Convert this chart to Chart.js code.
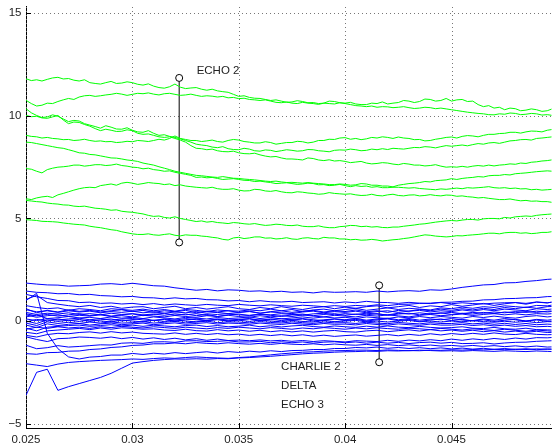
<!DOCTYPE html>
<html lang="en">
<head>
<meta charset="UTF-8" />
<title>Traces</title>
<style>
  body { margin: 0; background: #fff; }
  #wrap { width: 556px; height: 447px; }
</style>
</head>
<body>
<div id="wrap"><canvas id="traceChart"></canvas></div>
<script src="https://cdn.jsdelivr.net/npm/chart.js"></script>
<script>
  // sample times (s) - fine grid for the green traces
  const XF = [0.025,0.02525,0.0255,0.02575,0.026,0.02625,0.0265,0.02675,0.027,0.02725,
              0.0275,0.02775,0.028,0.02825,0.0285,0.02875,0.029,0.02925,0.0295,0.02975,
              0.03,0.03025,0.0305,0.03075,0.031,0.03125,0.0315,0.03175,0.032,0.03225,
              0.0325,0.03275,0.033,0.03325,0.0335,0.03375,0.034,0.03425,0.0345,0.03475,
              0.035,0.03525,0.0355,0.03575,0.036,0.03625,0.0365,0.03675,0.037,0.03725,
              0.0375,0.03775,0.038,0.03825,0.0385,0.03875,0.039,0.03925,0.0395,0.03975,
              0.04,0.04025,0.0405,0.04075,0.041,0.04125,0.0415,0.04175,0.042,0.04225,
              0.0425,0.04275,0.043,0.04325,0.0435,0.04375,0.044,0.04425,0.0445,0.04475,
              0.045,0.04525,0.0455,0.04575,0.046,0.04625,0.0465,0.04675,0.047,0.04725,
              0.0475,0.04775,0.048,0.04825,0.0485,0.04875,0.049,0.04925,0.0495,0.04975,0.05];
  // coarser grid for the blue traces
  const X = [0.025,0.0255,0.026,0.0265,0.027,0.0275,0.028,0.0285,0.029,0.0295,
             0.03,0.0305,0.031,0.0315,0.032,0.0325,0.033,0.0335,0.034,0.0345,
             0.035,0.0355,0.036,0.0365,0.037,0.0375,0.038,0.0385,0.039,0.0395,
             0.04,0.0405,0.041,0.0415,0.042,0.0425,0.043,0.0435,0.044,0.0445,
             0.045,0.0455,0.046,0.0465,0.047,0.0475,0.048,0.0485,0.049,0.0495,0.05];

  const xTicks = [0.025, 0.03, 0.035, 0.04, 0.045];
  const xTickLabels = ['0.025', '0.03', '0.035', '0.04', '0.045'];
  const yTicks = [-5, 0, 5, 10, 15];
  const yTickLabels = ['\u22125', '0', '5', '10', '15'];

  // green traces
  const green1 = [11.81,11.72,11.76,11.7,11.78,11.85,11.88,11.8,11.82,11.74,
                  11.7,11.76,11.62,11.58,11.55,11.62,11.68,11.58,11.6,11.66,
                  11.62,11.54,11.5,11.56,11.45,11.38,11.35,11.42,11.55,11.4,
                  11.33,11.36,11.38,11.3,11.25,11.3,11.22,11.18,11.15,11.05,
                  10.95,10.98,10.9,10.86,10.85,10.8,10.75,10.78,10.72,10.66,
                  10.68,10.74,10.7,10.64,10.65,10.6,10.62,10.72,10.7,10.64,
                  10.62,10.66,10.58,10.55,10.55,10.62,10.6,10.68,10.58,10.62,
                  10.65,10.75,10.72,10.65,10.7,10.82,10.8,10.72,10.75,10.85,
                  10.72,10.78,10.8,10.7,10.72,10.55,10.45,10.5,10.38,10.42,
                  10.3,10.38,10.35,10.25,10.28,10.34,10.3,10.22,10.25,10.35,10.08];
  const green2 = [10.76,10.6,10.48,10.52,10.62,10.6,10.7,10.78,10.85,10.8,
                  10.92,10.98,11.0,10.95,10.98,11.02,11.05,11.1,11.06,11.0,
                  11.05,11.1,11.08,11.12,11.06,11.02,11.08,11.1,11.05,11.0,
                  11.02,11.06,11.0,10.95,10.98,10.96,10.92,10.95,10.88,10.9,
                  10.84,10.86,10.8,10.78,10.75,10.78,10.72,10.66,10.64,10.68,
                  10.62,10.6,10.66,10.62,10.6,10.56,10.62,10.6,10.58,10.64,
                  10.6,10.55,10.5,10.48,10.45,10.48,10.42,10.45,10.44,10.4,
                  10.42,10.45,10.4,10.36,10.38,10.42,10.4,10.35,10.38,10.34,
                  10.3,10.26,10.22,10.18,10.15,10.12,10.1,10.06,10.05,10.1,
                  10.08,10.14,10.12,10.06,10.08,10.12,10.1,10.04,10.06,10.02,10.0];
  const green3 = [10.35,10.15,10.02,9.92,9.95,10.05,9.98,9.85,9.72,9.78,
                  9.75,9.62,9.55,9.48,9.4,9.52,9.45,9.36,9.35,9.42,
                  9.3,9.22,9.2,9.28,9.15,9.05,9.08,9.0,8.95,8.88,
                  8.8,8.72,8.62,8.58,8.55,8.48,8.45,8.5,8.4,8.36,
                  8.35,8.42,8.38,8.3,8.28,8.34,8.32,8.26,8.3,8.35,
                  8.32,8.28,8.3,8.36,8.35,8.3,8.28,8.25,8.32,8.34,
                  8.33,8.38,8.35,8.3,8.32,8.38,8.35,8.4,8.36,8.42,
                  8.4,8.38,8.42,8.46,8.45,8.5,8.48,8.44,8.5,8.55,
                  8.52,8.55,8.58,8.54,8.6,8.65,8.62,8.68,8.7,8.66,
                  8.72,8.78,8.8,8.84,8.85,8.82,8.9,8.92,8.95,8.98,8.97];
  const green4 = [10.02,9.96,9.98,9.9,9.88,9.95,10.02,9.8,9.62,9.7,
                  9.68,9.58,9.5,9.38,9.28,9.35,9.3,9.24,9.25,9.32,
                  9.28,9.15,9.1,9.12,9.05,8.98,8.95,8.98,8.9,8.82,
                  8.72,8.55,8.42,8.4,8.35,8.38,8.3,8.26,8.25,8.28,
                  8.2,8.16,8.15,8.18,8.1,8.04,8.0,8.02,7.95,7.9,
                  7.9,7.88,7.85,7.95,7.92,7.85,7.82,7.86,7.8,7.82,
                  7.78,7.72,7.75,7.78,7.7,7.66,7.68,7.72,7.7,7.65,
                  7.62,7.68,7.65,7.6,7.6,7.56,7.58,7.62,7.55,7.5,
                  7.52,7.5,7.54,7.5,7.55,7.58,7.55,7.6,7.56,7.6,
                  7.62,7.66,7.64,7.7,7.68,7.74,7.76,7.8,7.82,7.86,7.9];
  const green5 = [9.05,9.0,8.98,8.92,8.95,8.9,8.88,8.84,8.85,8.8,
                  8.82,8.86,8.8,8.76,8.78,8.74,8.75,8.7,8.72,8.76,
                  8.74,8.8,8.78,8.75,8.8,8.86,8.82,8.9,9.02,8.9,
                  8.85,8.8,8.8,8.75,8.78,8.82,8.75,8.72,8.8,8.85,
                  8.82,8.75,8.72,8.68,8.68,8.74,8.7,8.62,8.66,8.7,
                  8.7,8.76,8.74,8.68,8.72,8.8,8.8,8.86,8.85,8.92,
                  8.94,8.86,8.9,8.84,8.88,8.95,8.92,8.98,8.95,8.9,
                  8.97,8.92,8.9,8.84,8.85,8.78,8.8,8.86,8.9,8.95,
                  8.97,8.92,9.0,9.04,9.02,8.98,9.05,9.1,9.1,9.14,
                  9.15,9.2,9.2,9.16,9.22,9.26,9.25,9.22,9.3,9.34,9.32];
  const green6 = [8.72,8.7,8.65,8.6,8.55,8.5,8.45,8.42,8.35,8.28,
                  8.2,8.18,8.12,8.1,8.05,8.0,7.95,7.94,7.9,7.85,
                  7.82,7.78,7.7,7.65,7.6,7.52,7.45,7.38,7.3,7.25,
                  7.2,7.15,7.1,7.08,7.05,7.02,7.0,7.04,7.0,6.96,
                  6.95,6.92,6.9,6.88,6.85,6.82,6.8,6.82,6.78,6.75,
                  6.76,6.74,6.72,6.75,6.72,6.7,6.68,6.65,6.65,6.68,
                  6.66,6.62,6.64,6.7,6.68,6.62,6.62,6.58,6.58,6.54,
                  6.62,6.66,6.7,6.72,6.75,6.8,6.78,6.84,6.86,6.88,
                  6.94,6.9,6.95,6.98,7.0,7.04,7.02,7.08,7.1,7.1,
                  7.14,7.12,7.18,7.2,7.22,7.25,7.28,7.3,7.32,7.3,7.35];
  const green7 = [7.43,7.4,7.3,7.22,7.38,7.45,7.5,7.52,7.55,7.6,
                  7.6,7.55,7.58,7.62,7.62,7.58,7.6,7.65,7.58,7.55,
                  7.5,7.48,7.42,7.45,7.38,7.35,7.3,7.32,7.25,7.2,
                  7.15,7.1,7.0,7.02,6.98,7.0,6.95,6.9,6.92,6.94,
                  6.9,6.86,6.85,6.8,6.82,6.78,6.75,6.7,6.72,6.74,
                  6.7,6.66,6.68,6.72,6.7,6.64,6.65,6.6,6.62,6.66,
                  6.6,6.55,6.6,6.56,6.58,6.52,6.55,6.5,6.5,6.52,
                  6.52,6.5,6.48,6.5,6.46,6.44,6.42,6.4,6.44,6.42,
                  6.45,6.48,6.45,6.5,6.48,6.5,6.52,6.55,6.5,6.48,
                  6.5,6.46,6.48,6.44,6.45,6.4,6.42,6.38,6.4,6.42,6.4];
  const green8 = [5.96,5.92,6.0,6.05,6.08,6.02,6.15,6.22,6.3,6.38,
                  6.45,6.5,6.52,6.5,6.6,6.64,6.68,6.62,6.72,6.76,
                  6.72,6.66,6.7,6.75,6.72,6.7,6.65,6.68,6.6,6.64,
                  6.58,6.55,6.52,6.5,6.48,6.52,6.45,6.42,6.42,6.45,
                  6.38,6.34,6.35,6.42,6.4,6.34,6.32,6.36,6.3,6.26,
                  6.25,6.3,6.28,6.24,6.22,6.18,6.2,6.26,6.22,6.2,
                  6.18,6.2,6.15,6.12,6.13,6.18,6.12,6.1,6.15,6.18,
                  6.12,6.1,6.14,6.15,6.1,6.12,6.16,6.12,6.1,6.14,
                  6.13,6.08,6.1,6.06,6.04,6.0,6.02,5.98,5.95,5.92,
                  5.92,5.95,5.9,5.86,5.88,5.84,5.85,5.82,5.82,5.78,5.8];
  const green9 = [5.88,5.85,5.82,5.8,5.75,5.72,5.7,5.66,5.65,5.6,
                  5.58,5.6,5.55,5.5,5.48,5.45,5.4,5.42,5.35,5.32,
                  5.3,5.26,5.22,5.15,5.1,5.12,5.05,5.02,5.08,5.0,
                  4.95,4.9,4.85,4.88,4.82,4.85,4.8,4.78,4.75,4.8,
                  4.78,4.74,4.72,4.75,4.7,4.66,4.68,4.72,4.7,4.66,
                  4.65,4.68,4.62,4.6,4.6,4.64,4.58,4.55,4.55,4.6,
                  4.62,4.66,4.65,4.6,4.62,4.58,4.6,4.56,4.55,4.58,
                  4.58,4.62,4.65,4.68,4.72,4.74,4.78,4.82,4.85,4.88,
                  4.9,4.88,4.92,4.95,4.95,4.92,4.98,5.0,5.0,4.98,
                  5.05,5.02,5.08,5.1,5.12,5.1,5.15,5.18,5.2,5.22,5.25];
  const green10 = [4.94,4.92,4.9,4.86,4.85,4.84,4.82,4.78,4.75,4.72,
                   4.7,4.68,4.62,4.58,4.55,4.5,4.45,4.42,4.35,4.3,
                   4.25,4.22,4.22,4.25,4.2,4.18,4.22,4.25,4.18,4.15,
                   4.2,4.18,4.18,4.14,4.12,4.08,4.05,3.98,3.95,4.05,
                   4.08,4.02,4.05,4.1,4.1,4.04,4.05,4.0,4.02,4.06,
                   4.0,3.98,4.04,4.06,4.02,4.0,4.08,4.05,4.05,4.0,
                   4.0,3.96,3.98,3.94,3.95,3.98,3.95,3.9,3.93,3.96,
                   3.98,4.02,4.05,4.1,4.15,4.2,4.18,4.14,4.12,4.1,
                   4.12,4.16,4.15,4.18,4.2,4.22,4.25,4.28,4.28,4.25,
                   4.3,4.32,4.32,4.28,4.3,4.26,4.28,4.32,4.32,4.36,4.35];

  // blue traces
  const blue1 = [1.85,1.8,1.76,1.75,1.7,1.72,1.74,1.8,1.82,1.78,1.84,1.78,1.72,1.7,1.62,1.56,1.5,1.54,1.47,1.52,1.5,1.45,1.47,1.42,1.45,1.4,1.42,1.37,1.43,1.4,1.41,1.43,1.4,1.46,1.42,1.46,1.48,1.45,1.52,1.5,1.56,1.64,1.7,1.76,1.78,1.86,1.87,1.93,1.97,2.03,2.06];
  const blue2 = [1.46,1.4,1.38,1.33,1.34,1.28,1.3,1.24,1.22,1.18,1.2,1.14,1.13,1.08,1.13,1.08,1.1,1.04,1.03,0.98,1.0,0.94,0.99,0.94,0.93,0.96,0.9,0.92,0.94,0.88,0.93,0.89,0.96,0.91,0.9,0.86,0.91,0.87,0.85,0.9,0.84,0.89,0.85,0.83,0.87,0.89,0.9,0.86,0.93,0.89,0.95];
  const blue3 = [1.3,1.18,1.1,1.0,0.99,0.9,0.92,0.86,0.88,0.83,0.86,0.8,0.85,0.78,0.83,0.79,0.76,0.81,0.77,0.75,0.81,0.77,0.74,0.79,0.75,0.72,0.77,0.74,0.7,0.75,0.71,0.76,0.73,0.79,0.75,0.81,0.82,0.86,0.87,0.91,0.92,0.96,0.97,1.03,1.04,1.09,1.1,1.13,1.14,1.19,1.2];
  const blue4 = [1.05,1.25,0.9,0.82,0.75,0.7,0.76,0.66,0.72,0.62,0.68,0.7,0.6,0.66,0.72,0.6,0.66,0.58,0.64,0.7,0.6,0.56,0.66,0.6,0.7,0.62,0.56,0.65,0.7,0.6,0.68,0.62,0.7,0.74,0.64,0.7,0.76,0.66,0.74,0.7,0.8,0.72,0.78,0.86,0.76,0.84,0.9,0.82,0.92,0.88,0.98];
  const blue5 = [0.75,0.66,0.6,0.64,0.52,0.6,0.56,0.5,0.6,0.56,0.52,0.58,0.5,0.56,0.48,0.56,0.52,0.46,0.54,0.5,0.48,0.54,0.5,0.58,0.5,0.56,0.46,0.54,0.58,0.5,0.56,0.62,0.52,0.58,0.64,0.56,0.62,0.58,0.54,0.64,0.6,0.68,0.62,0.7,0.66,0.74,0.7,0.66,0.76,0.74,0.82];
  const blue6 = [0.55,0.45,0.5,0.42,0.5,0.44,0.48,0.4,0.46,0.42,0.48,0.4,0.45,0.38,0.44,0.4,0.46,0.38,0.42,0.36,0.42,0.46,0.38,0.44,0.4,0.36,0.44,0.48,0.4,0.46,0.42,0.48,0.4,0.46,0.5,0.42,0.48,0.52,0.44,0.5,0.46,0.54,0.48,0.56,0.5,0.58,0.54,0.5,0.6,0.56,0.62];
  const blue7 = [0.42,0.32,0.38,0.34,0.4,0.32,0.36,0.3,0.38,0.32,0.36,0.3,0.34,0.28,0.35,0.3,0.36,0.28,0.32,0.36,0.3,0.28,0.34,0.3,0.36,0.32,0.28,0.35,0.38,0.3,0.36,0.32,0.38,0.34,0.3,0.38,0.34,0.4,0.34,0.38,0.42,0.36,0.42,0.38,0.44,0.4,0.46,0.42,0.48,0.44,0.5];
  const blue8 = [0.3,0.18,0.26,0.3,0.22,0.28,0.24,0.3,0.22,0.26,0.2,0.28,0.24,0.2,0.27,0.22,0.18,0.26,0.22,0.28,0.22,0.18,0.26,0.2,0.26,0.22,0.3,0.24,0.2,0.28,0.24,0.2,0.28,0.24,0.3,0.25,0.2,0.28,0.32,0.26,0.3,0.34,0.27,0.32,0.36,0.3,0.35,0.3,0.36,0.34,0.38];
  const blue9 = [0.2,0.3,0.12,0.16,0.22,0.15,0.18,0.12,0.2,0.14,0.18,0.12,0.2,0.15,0.1,0.18,0.14,0.1,0.17,0.12,0.15,0.2,0.12,0.18,0.1,0.15,0.2,0.14,0.2,0.15,0.18,0.12,0.2,0.16,0.12,0.2,0.15,0.22,0.16,0.22,0.18,0.14,0.22,0.17,0.24,0.18,0.14,0.22,0.26,0.2,0.25];
  const blue10 = [0.1,0.02,0.12,0.05,0.1,0.14,0.06,0.12,0.04,0.1,0.12,0.05,0.02,0.1,0.04,0.12,0.06,0.02,0.1,0.05,0.08,0.12,0.04,0.1,0.02,0.08,0.12,0.06,0.02,0.1,0.06,0.12,0.04,0.1,0.14,0.06,0.12,0.04,0.1,0.06,0.12,0.05,0.02,0.1,0.04,0.12,0.06,0.0,0.08,0.04,0.1];
  const blue11 = [0.0,-0.12,0.06,-0.02,0.04,-0.02,0.05,0.0,-0.04,0.04,0.0,-0.04,0.04,-0.02,0.05,0.0,-0.04,0.03,0.06,0.0,0.04,-0.02,0.05,0.0,-0.04,0.03,-0.02,-0.05,0.02,-0.03,0.0,0.03,-0.04,0.0,-0.05,0.0,0.03,-0.04,0.0,-0.05,0.0,-0.04,0.02,-0.03,-0.06,-0.01,-0.06,-0.02,-0.08,-0.03,-0.05];
  const blue12 = [-0.1,-0.22,-0.04,-0.12,-0.06,-0.12,-0.05,-0.1,-0.04,-0.1,-0.08,-0.03,-0.1,-0.06,-0.02,-0.09,-0.05,-0.01,-0.08,-0.04,-0.05,-0.09,-0.03,-0.07,-0.1,-0.04,-0.08,-0.12,-0.05,-0.09,-0.08,-0.12,-0.06,-0.1,-0.13,-0.07,-0.11,-0.14,-0.08,-0.12,-0.12,-0.08,-0.14,-0.1,-0.16,-0.11,-0.17,-0.12,-0.18,-0.15,-0.18];
  const blue13 = [-0.2,-0.32,-0.14,-0.22,-0.16,-0.12,-0.2,-0.14,-0.1,-0.18,-0.14,-0.1,-0.18,-0.13,-0.09,-0.16,-0.12,-0.08,-0.15,-0.1,-0.12,-0.16,-0.1,-0.14,-0.17,-0.11,-0.15,-0.18,-0.12,-0.16,-0.15,-0.19,-0.12,-0.17,-0.2,-0.14,-0.18,-0.21,-0.15,-0.2,-0.2,-0.16,-0.22,-0.18,-0.24,-0.2,-0.26,-0.22,-0.28,-0.26,-0.3];
  const blue14 = [-0.35,-0.48,-0.3,-0.26,-0.22,-0.2,-0.26,-0.22,-0.18,-0.24,-0.2,-0.26,-0.2,-0.24,-0.28,-0.22,-0.2,-0.27,-0.22,-0.28,-0.25,-0.2,-0.28,-0.23,-0.29,-0.24,-0.21,-0.27,-0.3,-0.24,-0.28,-0.31,-0.25,-0.3,-0.24,-0.3,-0.32,-0.26,-0.31,-0.34,-0.32,-0.28,-0.35,-0.37,-0.31,-0.38,-0.4,-0.35,-0.42,-0.43,-0.45];
  const blue15 = [-0.55,-0.62,-0.48,-0.44,-0.4,-0.36,-0.42,-0.34,-0.4,-0.33,-0.36,-0.4,-0.38,-0.44,-0.46,-0.4,-0.47,-0.49,-0.42,-0.48,-0.44,-0.5,-0.45,-0.52,-0.47,-0.53,-0.48,-0.54,-0.49,-0.46,-0.52,-0.54,-0.48,-0.45,-0.52,-0.47,-0.43,-0.49,-0.42,-0.48,-0.44,-0.5,-0.45,-0.52,-0.47,-0.54,-0.49,-0.55,-0.5,-0.56,-0.55];
  const blue16 = [-0.7,-0.78,-0.66,-0.6,-0.62,-0.56,-0.53,-0.59,-0.52,-0.58,-0.54,-0.6,-0.62,-0.64,-0.58,-0.65,-0.6,-0.66,-0.61,-0.67,-0.64,-0.7,-0.65,-0.71,-0.66,-0.72,-0.67,-0.74,-0.69,-0.75,-0.71,-0.68,-0.74,-0.7,-0.66,-0.72,-0.65,-0.7,-0.62,-0.68,-0.61,-0.66,-0.6,-0.65,-0.58,-0.64,-0.66,-0.6,-0.65,-0.67,-0.65];
  const blue17 = [-0.77,-0.9,-1.0,-0.86,-0.84,-0.78,-0.8,-0.84,-0.78,-0.86,-0.8,-0.88,-0.82,-0.9,-0.84,-0.92,-0.86,-0.94,-0.88,-0.95,-0.93,-0.96,-0.92,-0.97,-0.94,-0.99,-0.95,-1.0,-0.96,-0.99,-1.02,-0.96,-0.98,-1.0,-0.94,-0.99,-0.93,-0.97,-0.91,-0.96,-0.88,-0.94,-0.87,-0.92,-0.85,-0.9,-0.83,-0.88,-0.81,-0.82,-0.78];
  const blue18 = [-1.18,-1.35,-1.3,-1.2,-1.27,-1.24,-1.2,-1.16,-1.17,-1.08,-1.06,-1.09,-1.02,-1.01,-1.04,-0.97,-0.96,-1.0,-0.99,-0.96,-1.02,-1.02,-0.99,-1.06,-1.01,-1.06,-1.02,-1.08,-1.03,-1.01,-1.06,-1.02,-1.08,-1.03,-1.08,-1.04,-1.1,-1.05,-1.03,-1.08,-1.04,-1.1,-1.09,-1.06,-1.12,-1.07,-1.04,-1.03,-0.99,-0.97,-0.95];
  const blue19 = [1.0,1.35,-0.6,-1.35,-1.75,-1.85,-1.76,-1.73,-1.66,-1.66,-1.58,-1.63,-1.57,-1.61,-1.54,-1.59,-1.54,-1.5,-1.56,-1.49,-1.53,-1.47,-1.51,-1.45,-1.49,-1.44,-1.43,-1.39,-1.39,-1.34,-1.34,-1.29,-1.31,-1.27,-1.33,-1.29,-1.34,-1.3,-1.35,-1.31,-1.36,-1.32,-1.37,-1.33,-1.38,-1.34,-1.39,-1.35,-1.4,-1.36,-1.4];
  const blue20 = [-1.59,-1.62,-1.54,-1.53,-1.47,-1.46,-1.39,-1.36,-1.29,-1.26,-1.19,-1.17,-1.11,-1.11,-1.07,-1.11,-1.05,-1.09,-1.11,-1.06,-1.1,-1.13,-1.09,-1.14,-1.09,-1.13,-1.15,-1.11,-1.16,-1.12,-1.16,-1.18,-1.14,-1.19,-1.15,-1.2,-1.16,-1.21,-1.17,-1.22,-1.19,-1.23,-1.19,-1.24,-1.2,-1.25,-1.21,-1.26,-1.22,-1.27,-1.25];
  const blue21 = [-2.08,-2.15,-2.22,-2.1,-2.02,-1.98,-1.95,-1.92,-1.9,-1.88,-1.85,-1.87,-1.83,-1.8,-1.82,-1.78,-1.75,-1.78,-1.8,-1.82,-1.78,-1.75,-1.7,-1.65,-1.6,-1.56,-1.52,-1.5,-1.47,-1.45,-1.44,-1.42,-1.42,-1.44,-1.41,-1.43,-1.45,-1.42,-1.44,-1.46,-1.45,-1.47,-1.44,-1.46,-1.48,-1.45,-1.47,-1.49,-1.46,-1.48,-1.5];
  const blue22 = [-3.62,-2.5,-2.35,-3.38,-3.2,-3.05,-2.9,-2.75,-2.55,-2.3,-2.05,-1.98,-1.92,-1.88,-1.85,-1.86,-1.84,-1.86,-1.83,-1.84,-1.8,-1.78,-1.75,-1.72,-1.68,-1.64,-1.6,-1.57,-1.55,-1.52,-1.5,-1.49,-1.47,-1.48,-1.45,-1.46,-1.44,-1.45,-1.42,-1.43,-1.4,-1.42,-1.39,-1.41,-1.38,-1.4,-1.37,-1.39,-1.36,-1.38,-1.35];
  const blue23 = [0.6,0.4,0.52,0.44,0.55,0.47,0.52,0.44,0.5,0.55,0.46,0.52,0.42,0.5,0.45,0.52,0.4,0.48,0.44,0.5,0.42,0.48,0.38,0.46,0.5,0.42,0.48,0.52,0.44,0.5,0.46,0.54,0.45,0.5,0.42,0.52,0.48,0.56,0.5,0.58,0.52,0.6,0.54,0.62,0.56,0.66,0.6,0.68,0.62,0.7,0.72];
  const blue24 = [-0.05,0.08,0.0,0.1,0.02,0.08,-0.02,0.06,0.1,0.0,0.07,0.12,0.03,0.08,-0.02,0.06,0.1,0.02,0.08,0.0,0.06,0.1,0.02,0.08,0.12,0.04,0.1,0.0,0.06,0.1,0.02,0.08,0.0,0.06,0.1,0.02,0.08,-0.02,0.05,0.1,0.02,0.08,0.0,0.06,-0.02,0.04,0.08,0.0,0.05,-0.02,0.02];
  const blue25 = [0.35,0.25,0.32,0.24,0.3,0.36,0.26,0.33,0.24,0.3,0.35,0.26,0.32,0.38,0.28,0.34,0.26,0.32,0.22,0.3,0.34,0.26,0.32,0.28,0.22,0.3,0.34,0.26,0.32,0.36,0.28,0.34,0.3,0.36,0.28,0.34,0.38,0.3,0.36,0.4,0.32,0.38,0.34,0.42,0.36,0.44,0.4,0.46,0.42,0.48,0.5];
  const blue26 = [-0.4,-0.3,-0.36,-0.28,-0.34,-0.3,-0.36,-0.28,-0.32,-0.26,-0.3,-0.34,-0.28,-0.32,-0.36,-0.3,-0.34,-0.38,-0.32,-0.36,-0.3,-0.34,-0.38,-0.32,-0.36,-0.4,-0.34,-0.38,-0.32,-0.36,-0.4,-0.34,-0.38,-0.33,-0.37,-0.4,-0.35,-0.38,-0.42,-0.36,-0.4,-0.44,-0.38,-0.42,-0.46,-0.4,-0.45,-0.5,-0.44,-0.48,-0.52];

  // range markers (vertical bars with circles)
  const markX = [0.0322, 0.0416];
  const markLow = [3.83, -2.01];
  const markHigh = [11.85, 1.74];

  // text labels, in data coordinates
  const noteText = ['ECHO 2', 'CHARLIE 2', 'DELTA', 'ECHO 3'];
  const noteX = [0.03302, 0.03699, 0.03699, 0.03699];
  const noteY = [12.18, -2.24, -3.17, -4.1];

  const greenSeries = [green1, green2, green3, green4, green5, green6, green7, green8, green9, green10];
  const blueSeries = [blue1, blue2, blue3, blue4, blue5, blue6, blue7, blue8, blue9, blue10, blue11,
                      blue12, blue13, blue14, blue15, blue16, blue17, blue18, blue19, blue20, blue21, blue22,
                      blue23, blue24, blue25, blue26];

  const FONT = { family: '"Liberation Sans", Arial, Helvetica, sans-serif', size: 11.5 };
  const FONT_CSS = FONT.size + 'px ' + FONT.family;

  function toPoints(xs, values) {
    return values.map((v, i) => ({ x: xs[i], y: v }));
  }

  const datasets = [];
  greenSeries.forEach(s => datasets.push({ data: toPoints(XF, s), borderColor: '#00ff00' }));
  blueSeries.forEach(s => datasets.push({ data: toPoints(X, s), borderColor: '#0000ff' }));
  markX.forEach((mx, i) => {
    datasets.push({
      data: [{ x: mx, y: markLow[i] }, { x: mx, y: markHigh[i] }],
      borderColor: '#000',
      pointRadius: 3.5,
      pointBorderColor: '#000',
      pointBackgroundColor: '#fff',
      pointBorderWidth: 1
    });
  });

  // dotted grid behind the traces
  const dottedGrid = {
    id: 'dottedGrid',
    beforeDatasetsDraw(chart) {
      const ctx = chart.ctx;
      const area = chart.chartArea;
      const xs = chart.scales.x, ys = chart.scales.y;
      ctx.save();
      ctx.strokeStyle = '#777';
      ctx.lineWidth = 1;
      ctx.setLineDash([1, 3]);
      ctx.beginPath();
      yTicks.forEach(v => {
        const py = Math.round(ys.getPixelForValue(v)) + 0.5;
        ctx.moveTo(area.left, py); ctx.lineTo(area.right, py);
      });
      xTicks.forEach(v => {
        const px = Math.round(xs.getPixelForValue(v)) + 0.5;
        ctx.moveTo(px, area.bottom); ctx.lineTo(px, area.top);
      });
      ctx.stroke();
      ctx.restore();
    }
  };

  // inward tick marks, y tick labels and text notes
  const extras = {
    id: 'extras',
    afterDraw(chart) {
      const ctx = chart.ctx;
      const area = chart.chartArea;
      const xs = chart.scales.x, ys = chart.scales.y;
      ctx.save();
      ctx.strokeStyle = '#000';
      ctx.lineWidth = 1;
      ctx.beginPath();
      yTicks.forEach(v => {
        const py = Math.round(ys.getPixelForValue(v)) + 0.5;
        ctx.moveTo(area.left, py); ctx.lineTo(area.left + 5, py);
      });
      xTicks.forEach(v => {
        const px = Math.round(xs.getPixelForValue(v)) + 0.5;
        ctx.moveTo(px, area.bottom); ctx.lineTo(px, area.bottom - 5);
      });
      ctx.stroke();

      ctx.fillStyle = '#222';
      ctx.font = FONT_CSS;
      ctx.textBaseline = 'middle';
      ctx.textAlign = 'right';
      yTicks.forEach((v, i) => {
        ctx.fillText(yTickLabels[i], area.left - 4.5, ys.getPixelForValue(v));
      });
      ctx.textAlign = 'left';
      noteText.forEach((t, i) => {
        ctx.fillText(t, xs.getPixelForValue(noteX[i]), ys.getPixelForValue(noteY[i]));
      });
      ctx.restore();
    }
  };

  new Chart(document.getElementById('traceChart'), {
    type: 'line',
    data: { datasets: datasets },
    plugins: [dottedGrid, extras],
    options: {
      responsive: true,
      maintainAspectRatio: false,
      animation: false,
      layout: { padding: { top: 6, right: 0, left: 0, bottom: 0 } },
      elements: {
        line: { borderWidth: 1, tension: 0, fill: false },
        point: { radius: 0, hoverRadius: 0 }
      },
      plugins: { legend: { display: false }, tooltip: { enabled: false } },
      scales: {
        x: {
          type: 'linear',
          min: 0.025,
          max: 0.0497,
          afterBuildTicks: axis => { axis.ticks = xTicks.map(v => ({ value: v })); },
          afterFit: axis => { axis.height = 19; },
          ticks: {
            autoSkip: false,
            maxRotation: 0,
            padding: 5,
            color: '#222',
            font: FONT,
            callback: v => xTickLabels[xTicks.indexOf(v)] ?? ''
          },
          grid: { color: 'rgba(0,0,0,0)', drawTicks: false },
          border: { color: '#000', width: 1 }
        },
        y: {
          type: 'linear',
          min: -5.215,
          max: 15.356,
          afterBuildTicks: axis => { axis.ticks = yTicks.map(v => ({ value: v })); },
          afterFit: axis => { axis.width = 26; },
          ticks: { display: false },
          grid: { color: 'rgba(0,0,0,0)', drawTicks: false },
          border: { color: '#000', width: 1 }
        }
      }
    }
  });
</script>
</body>
</html>
